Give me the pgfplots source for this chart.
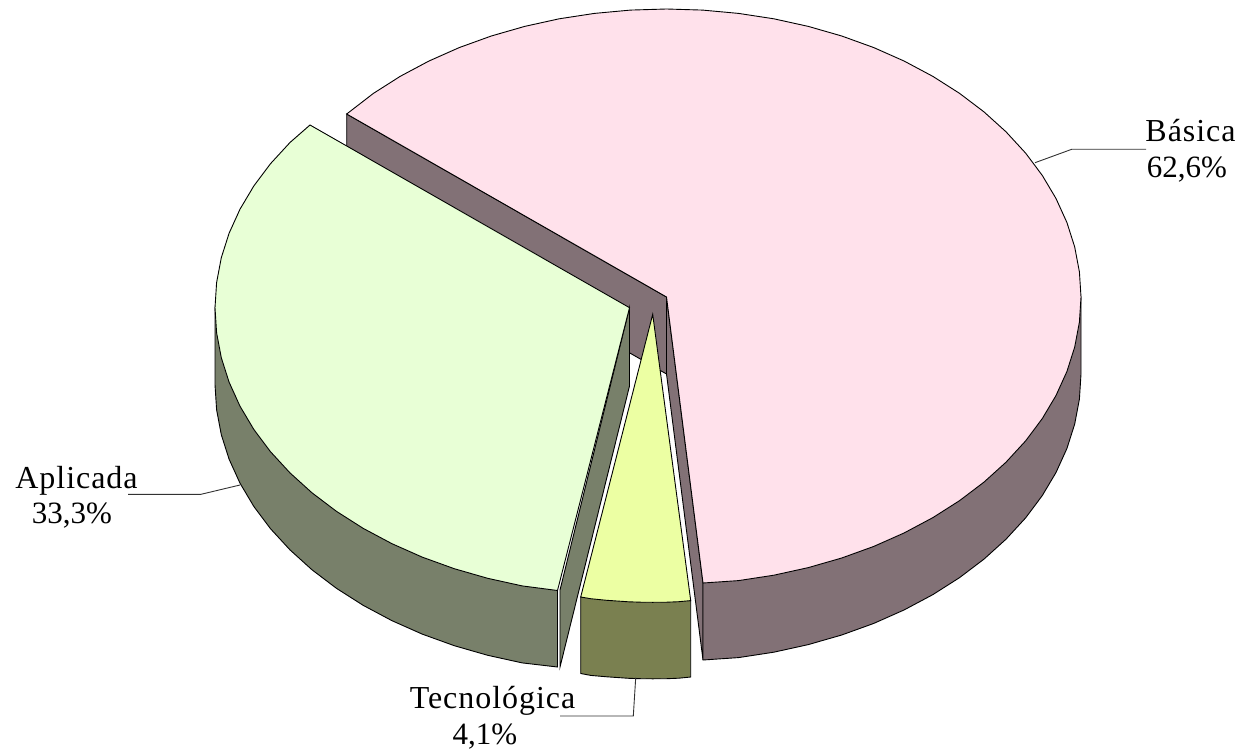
\documentclass[border=0pt]{standalone}
\usepackage{pgfplots}
\usepackage{fontspec}
\pgfplotsset{compat=1.18}
\setmainfont{Liberation Serif}
\newfontfamily\lbl[LetterSpace=3]{Liberation Serif}
\newfontfamily\num{Liberation Serif}
\definecolor{pinkT}{RGB}{255,225,235}
\definecolor{pinkW}{RGB}{130,113,118}
\definecolor{greenT}{RGB}{232,255,214}
\definecolor{greenW}{RGB}{120,128,106}
\definecolor{yelT}{RGB}{236,255,163}
\definecolor{yelW}{RGB}{122,128,80}
\definecolor{lead}{RGB}{50,50,50}
\begin{document}
\begin{tikzpicture}
\path[use as bounding box] (0,0) rectangle (1241pt,751pt);
\begin{axis}[
  at={(0,0)},anchor=south west,
  hide axis,scale only axis,width=1241pt,height=751pt,
  xmin=0,xmax=1241,ymin=0,ymax=751,y dir=reverse,clip=false,
  every axis plot/.append style={no markers,line width=0.9pt,line join=miter,draw=black}]
% Basica: back wall, cut wall, outer wall, top
\addplot[fill=pinkW] coordinates {(346.7,114)(666.5,297)(666.5,374)(346.7,191)} --cycle;
\addplot[fill=pinkW] coordinates {(666.5,297)(703,583)(703,660)(666.5,374)} --cycle;
\addplot[fill=pinkW] coordinates {(1081,297)(1081,374)(1079.4,399.1)(1074.7,424)(1066.9,448.5)(1056,472.5)(1042.2,495.7)(1025.5,518)(1006,539.2)(984,559.1)(959.6,577.6)(932.9,594.6)(904.2,609.9)(873.8,623.4)(841.7,635)(808.3,644.6)(773.8,652.2)(738.5,657.6)(703,660)(703,583)} --cycle;
\addplot[fill=pinkT] coordinates {(666.5,297)(346.7,114)(373.4,93.4)(400.1,76.4)(428.8,61.1)(459.2,47.6)(491.3,36)(524.7,26.4)(559.2,18.8)(594.5,13.4)(630.4,10.1)(666.5,9)(702.6,10.1)(738.5,13.4)(773.8,18.8)(808.3,26.4)(841.7,36)(873.8,47.6)(904.2,61.1)(932.9,76.4)(959.6,93.4)(984,111.9)(1006,131.8)(1025.5,153)(1042.2,175.3)(1056,198.5)(1066.9,222.5)(1074.7,247)(1079.4,271.9)(1081,297)(1079.4,322.1)(1074.7,347)(1066.9,371.5)(1056,395.5)(1042.2,418.7)(1025.5,441)(1006,462.2)(984,482.1)(959.6,500.6)(932.9,517.6)(904.2,532.9)(873.8,546.4)(841.7,558)(808.3,567.6)(773.8,575.2)(738.5,580.6)(703,583)} --cycle;
% Aplicada
\addplot[fill=greenW] coordinates {(215,307.7)(215,384.7)(216.6,409.8)(221.3,434.7)(229.1,459.2)(240,483.2)(253.8,506.4)(270.5,528.7)(290,549.9)(312,569.8)(336.4,588.3)(363.1,605.3)(391.8,620.6)(422.2,634.1)(454.3,645.7)(487.7,655.3)(522.2,662.9)(557.5,667)(557.5,590.5)} --cycle;
\addplot[fill=greenW] coordinates {(629.5,307.7)(560,590)(560,667)(629.5,386)} --cycle;
\addplot[fill=greenT] coordinates {(629.5,307.7)(310,125)(290,142.5)(270.5,163.7)(253.8,186)(240,209.2)(229.1,233.2)(221.3,257.7)(216.6,282.6)(215,307.7)(216.6,332.8)(221.3,357.7)(229.1,382.2)(240,406.2)(253.8,429.4)(270.5,451.7)(290,472.9)(312,492.8)(336.4,511.3)(363.1,528.3)(391.8,543.6)(422.2,557.1)(454.3,568.7)(487.7,578.3)(522.2,585.9)(557.5,590.5)} --cycle;
% Tecnologica
\addplot[fill=yelW] coordinates {(580.7,597)(580.7,673.5)(590.7,675.4)(606.7,676.8)(628.7,678.3)(640.7,678.7)(652.7,678.8)(666.7,678.7)(678.7,678.2)(690.7,677)(690.7,600.6)} --cycle;
\addplot[fill=yelT] coordinates {(652.7,314.3)(580.7,597)(590.7,598.7)(606.7,600.3)(628.7,601.8)(640.7,602.2)(652.7,602.3)(666.7,602.2)(678.7,601.7)(690.7,600.6)} --cycle;
% leader lines
\addplot[draw=lead,line width=0.9pt] coordinates {(1035,162.7)(1071.7,149.3)(1146,149.3)};
\addplot[draw=lead,line width=0.9pt] coordinates {(240,485)(201,494.3)(128,494.3)};
\addplot[draw=lead,line width=0.9pt] coordinates {(635.7,677.7)(633.3,716)(560,716)};
% labels
\node[anchor=base,inner sep=0,font=\fontsize{32}{36}\selectfont\lbl] at (axis cs:1190.5,142) {Básica};
\node[anchor=base,inner sep=0,font=\fontsize{31}{36}\selectfont\num] at (axis cs:1187,178) {62,6\%};
\node[anchor=base,inner sep=0,font=\fontsize{32}{36}\selectfont\lbl] at (axis cs:76.5,488) {Aplicada};
\node[anchor=base,inner sep=0,font=\fontsize{31}{36}\selectfont\num] at (axis cs:72,523) {33,3\%};
\node[anchor=base,inner sep=0,font=\fontsize{32}{36}\selectfont\lbl] at (axis cs:492.5,708) {Tecnológica};
\node[anchor=base,inner sep=0,font=\fontsize{31}{36}\selectfont\num] at (axis cs:485,744) {4,1\%};
\end{axis}
\end{tikzpicture}
\end{document}
